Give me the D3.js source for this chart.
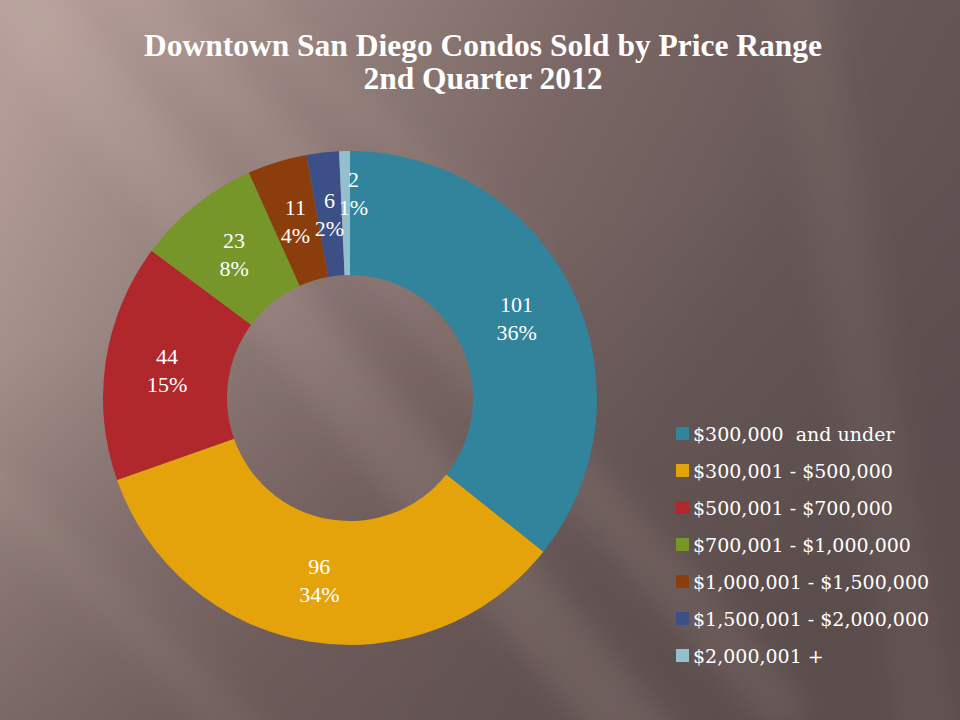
<!DOCTYPE html>
<html><head><meta charset="utf-8">
<script src="https://cdn.jsdelivr.net/npm/d3@7"></script>
<style>html,body{margin:0;padding:0;background:#6a5958;}svg{display:block;}</style>
</head><body>
<script>
const categories = ["$300,000  and under","$300,001 - $500,000","$500,001 - $700,000","$700,001 - $1,000,000","$1,000,001 - $1,500,000","$1,500,001 - $2,000,000","$2,000,001 +"];
const values = [101, 96, 44, 23, 11, 6, 2];
const percentLabels = ["36%","34%","15%","8%","4%","2%","1%"];
const colors = ["#31849b","#e5a30b","#b0282c","#76962a","#8b3d0b","#3c4f86","#93bfcf"];
const titleLines = ["Downtown San Diego Condos Sold by Price Range","2nd Quarter 2012"];

const W = 960, H = 720;
const svg = d3.select("body").append("svg").attr("width", W).attr("height", H);
const defs = svg.append("defs");

// background
const bg = defs.append("linearGradient").attr("id","bg").attr("x1","0").attr("y1","0.15").attr("x2","1").attr("y2","0.55");
[["0","#b49d98"],["0.25","#94807c"],["0.5","#7a6765"],["0.75","#675857"],["1","#5c4f4f"]].forEach(s=>bg.append("stop").attr("offset",s[0]).attr("stop-color",s[1]));
svg.append("rect").attr("width",W).attr("height",H).attr("fill","url(#bg)");
const bg2 = defs.append("linearGradient").attr("id","bg2").attr("x1","0").attr("y1","0").attr("x2","0.3").attr("y2","1");
bg2.append("stop").attr("offset","0.45").attr("stop-color","#5a4a49").attr("stop-opacity",0);
bg2.append("stop").attr("offset","1").attr("stop-color","#5a4a49").attr("stop-opacity",0.45);
svg.append("rect").attr("width",W).attr("height",H).attr("fill","url(#bg2)");

const blur = defs.append("filter").attr("id","blur").attr("x","-50%").attr("y","-50%").attr("width","200%").attr("height","200%");
blur.append("feGaussianBlur").attr("stdDeviation",14);
const rays = svg.append("g").attr("filter","url(#blur)");
[[-60,-40,70,1100,40,0.11],[40,-80,50,1100,42,0.09],[-200,320,40,700,45,0.07],[760,-50,60,900,10,0.05],[150,-60,30,500,48,0.07]].forEach(r=>{
  rays.append("rect").attr("x",0).attr("y",0).attr("width",r[2]).attr("height",r[3])
    .attr("fill","#e8d2cc").attr("opacity",r[5])
    .attr("transform",`translate(${r[0]},${r[1]}) rotate(${-r[4]})`);
});

// title
const title = svg.append("text").attr("text-anchor","middle").attr("fill","#fff")
  .style("font-family","'Liberation Serif', serif").style("font-weight","bold").style("font-size","31.5px");
titleLines.forEach((t,i)=>title.append("tspan").attr("x",483).attr("y",56+i*33).text(t));

// donut
const cx = 350, cy = 398, rOuter = 247, rInner = 123;
const pie = d3.pie().sort(null).value(d=>d);
const arcs = pie(values);
const arc = d3.arc().innerRadius(rInner).outerRadius(rOuter);
const g = svg.append("g").attr("transform",`translate(${cx},${cy})`);
g.selectAll("path").data(arcs).enter().append("path")
  .attr("d",arc).attr("fill",(d,i)=>colors[i]);

// label placement: centroid; tiny slices pushed outward and right to avoid collisions
const labelPos = d => {
  const frac = (d.endAngle-d.startAngle)/(2*Math.PI);
  const tiny = frac < 0.015;
  const r = tiny ? (rInner+rOuter)/2 + 20 : (rInner+rOuter)/2;
  const c = d3.arc().innerRadius(r).outerRadius(r).centroid(d);
  return tiny ? [c[0]+8, c[1]] : c;
};
const lab = g.selectAll("text.lab").data(arcs).enter().append("text").attr("class","lab")
  .attr("text-anchor","middle").attr("fill","#fff")
  .style("font-family","'Liberation Serif', serif").style("font-size","22px");
lab.each(function(d,i){
  const c = labelPos(d);
  const t = d3.select(this);
  t.append("tspan").attr("x",c[0]).attr("y",c[1]-6).text(values[i]);
  t.append("tspan").attr("x",c[0]).attr("y",c[1]+22).text(percentLabels[i]);
});

// legend
const leg = svg.append("g").attr("transform","translate(676,434)");
const rows = leg.selectAll("g").data(categories).enter().append("g")
  .attr("transform",(d,i)=>`translate(0,${i*37})`);
rows.append("rect").attr("x",0).attr("y",-7).attr("width",13).attr("height",13).attr("fill",(d,i)=>colors[i]);
rows.append("text").attr("x",17).attr("y",7).attr("fill","#fff")
  .style("font-family","'DejaVu Serif', serif").style("font-size","19px")
  .style("white-space","pre").attr("xml:space","preserve").text(d=>d);
</script>
</body></html>
